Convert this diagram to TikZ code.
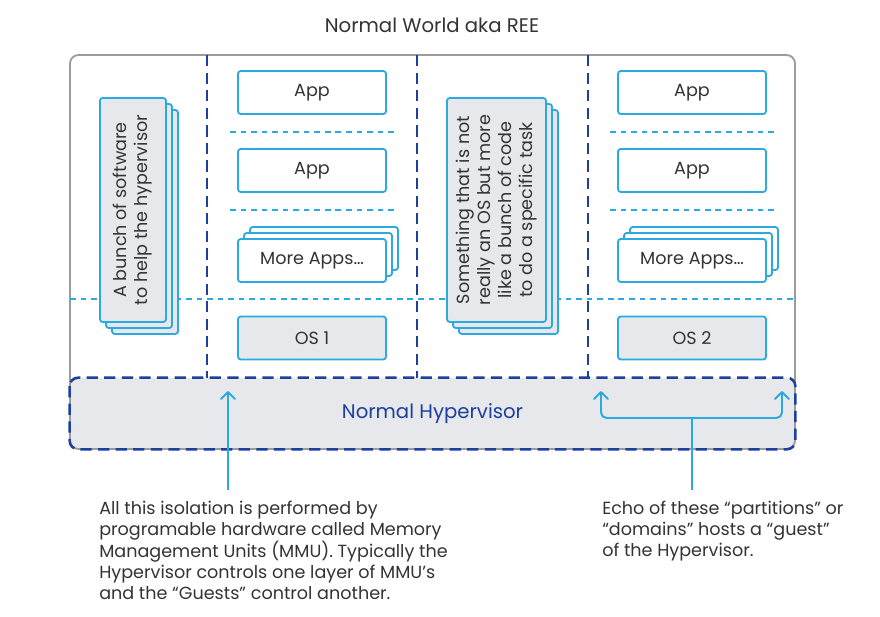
\documentclass[tikz,border=0pt]{standalone}
\usepackage{fontspec}
\setmainfont{Poppins}
\usetikzlibrary{arrows.meta, positioning, calc}
\definecolor{hvDeep}{HTML}{1D3F9E}
\definecolor{hvSky}{HTML}{2BA9E1}
\definecolor{hvFog}{HTML}{E6E8EB}
\definecolor{hvFrame}{HTML}{9B9B9B}
\definecolor{hvInk}{HTML}{333333}
\newcommand{\hvtext}{\fontsize{12.5}{14.9}\selectfont}
\newcommand{\hvbig}{\fontsize{14}{16}\selectfont}

\begin{document}
\begin{tikzpicture}[x=0.025cm, y=-0.025cm,
  appbox/.style={draw=hvSky, line width=1.3pt, fill=white, rounded corners=2pt,
    minimum width=3.7cm, minimum height=1.075cm, inner sep=0pt, font=\hvtext, text=hvInk},
  osbox/.style={appbox, fill=hvFog},
  stackbox/.style={osbox, rotate=90, minimum width=5.6cm, align=center},
  partline/.style={hvDeep, line width=1.8pt, dash pattern=on 8pt off 4.5pt},
  layerline/.style={hvSky, line width=1.3pt, dash pattern=on 4pt off 3.5pt},
  pointer/.style={hvSky, line width=1.4pt, -{Straight Barb[length=5pt, width=10pt, round]}},
  note/.style={font=\hvtext, text=hvInk, align=left, anchor=north west, inner xsep=0pt, inner ysep=7.5pt}]
  \useasboundingbox (0,0) rectangle (880,617);
  \node[font=\hvbig, text=hvInk] (title) at (432,25) {Normal World aka REE};
  \node[fill=hvFog, rounded corners=6pt, minimum width=18.125cm, minimum height=1.775cm,
    font=\hvbig, text=hvDeep] (hyp) at (432.5,413.5) {Normal Hypervisor};
  \draw[hvFrame, line width=1.3pt, rounded corners=6pt] (70,55) rectangle (795,449);
  \draw[partline, rounded corners=6pt] (hyp.north west) rectangle (hyp.south east);
  \foreach \x in {207,417,588}
    \draw[partline] (\x,55) -- (\x,378);
  \draw[layerline] (70,299) -- (795,299);
  \foreach \x in {230,610}
    \foreach \y in {132,210}
      \draw[layerline] (\x,\y) -- ++(165,0);

  \foreach \n/\cx/\os in {1/312/OS 1, 2/692/OS 2}{
    \node[appbox] (app\n a) at (\cx,92.5) {App};
    \node[appbox] (app\n b) at (\cx,170.5) {App};
    \foreach \d in {12,6}
      \node[appbox] (more\n-\d) at (\cx+\d,260.5-\d) {};
    \node[appbox] (more\n) at (\cx,260.5) {More Apps…};
    \node[osbox] (os\n) at (\cx,338) {\os};
  }

  \foreach \d in {12,6}
    \node[stackbox, minimum height=1.65cm] (helper-\d) at (133+\d,210+\d) {};
  \node[stackbox, minimum height=1.65cm] (helper) at (133,210) {A bunch of software\\to help the hypervisor};
  \foreach \d in {12,6}
    \node[stackbox, minimum height=2.475cm] (task-\d) at (496.5+\d,210+\d) {};
  \node[stackbox, minimum height=2.475cm] (task) at (496.5,210)
    {Something that is not\\really an OS but more\\like a bunch of code\\to do a specific task};

  \coordinate (mmuTip) at (228,391);
  \node[note] (mmu) at (99,490) {All this isolation is performed by\\programable hardware called Memory\\Management Units (MMU). Typically the\\Hypervisor controls one layer of MMU’s\\and the “Guests” control another.};
  \draw[pointer] (mmu.north -| mmuTip) -- (mmuTip);

  \coordinate (fork) at (692,418);
  \coordinate (guestA) at (601,391);
  \coordinate (guestB) at (782,391);
  \node[note] (guest) at (602,490) {Echo of these “partitions” or\\“domains” hosts a “guest”\\of the Hypervisor.};
  \draw[pointer, -] (guest.north -| fork) -- (fork);
  \draw[pointer, rounded corners=4pt] (fork) -| (guestA);
  \draw[pointer, rounded corners=4pt] (fork) -| (guestB);
\end{tikzpicture}
\end{document}
